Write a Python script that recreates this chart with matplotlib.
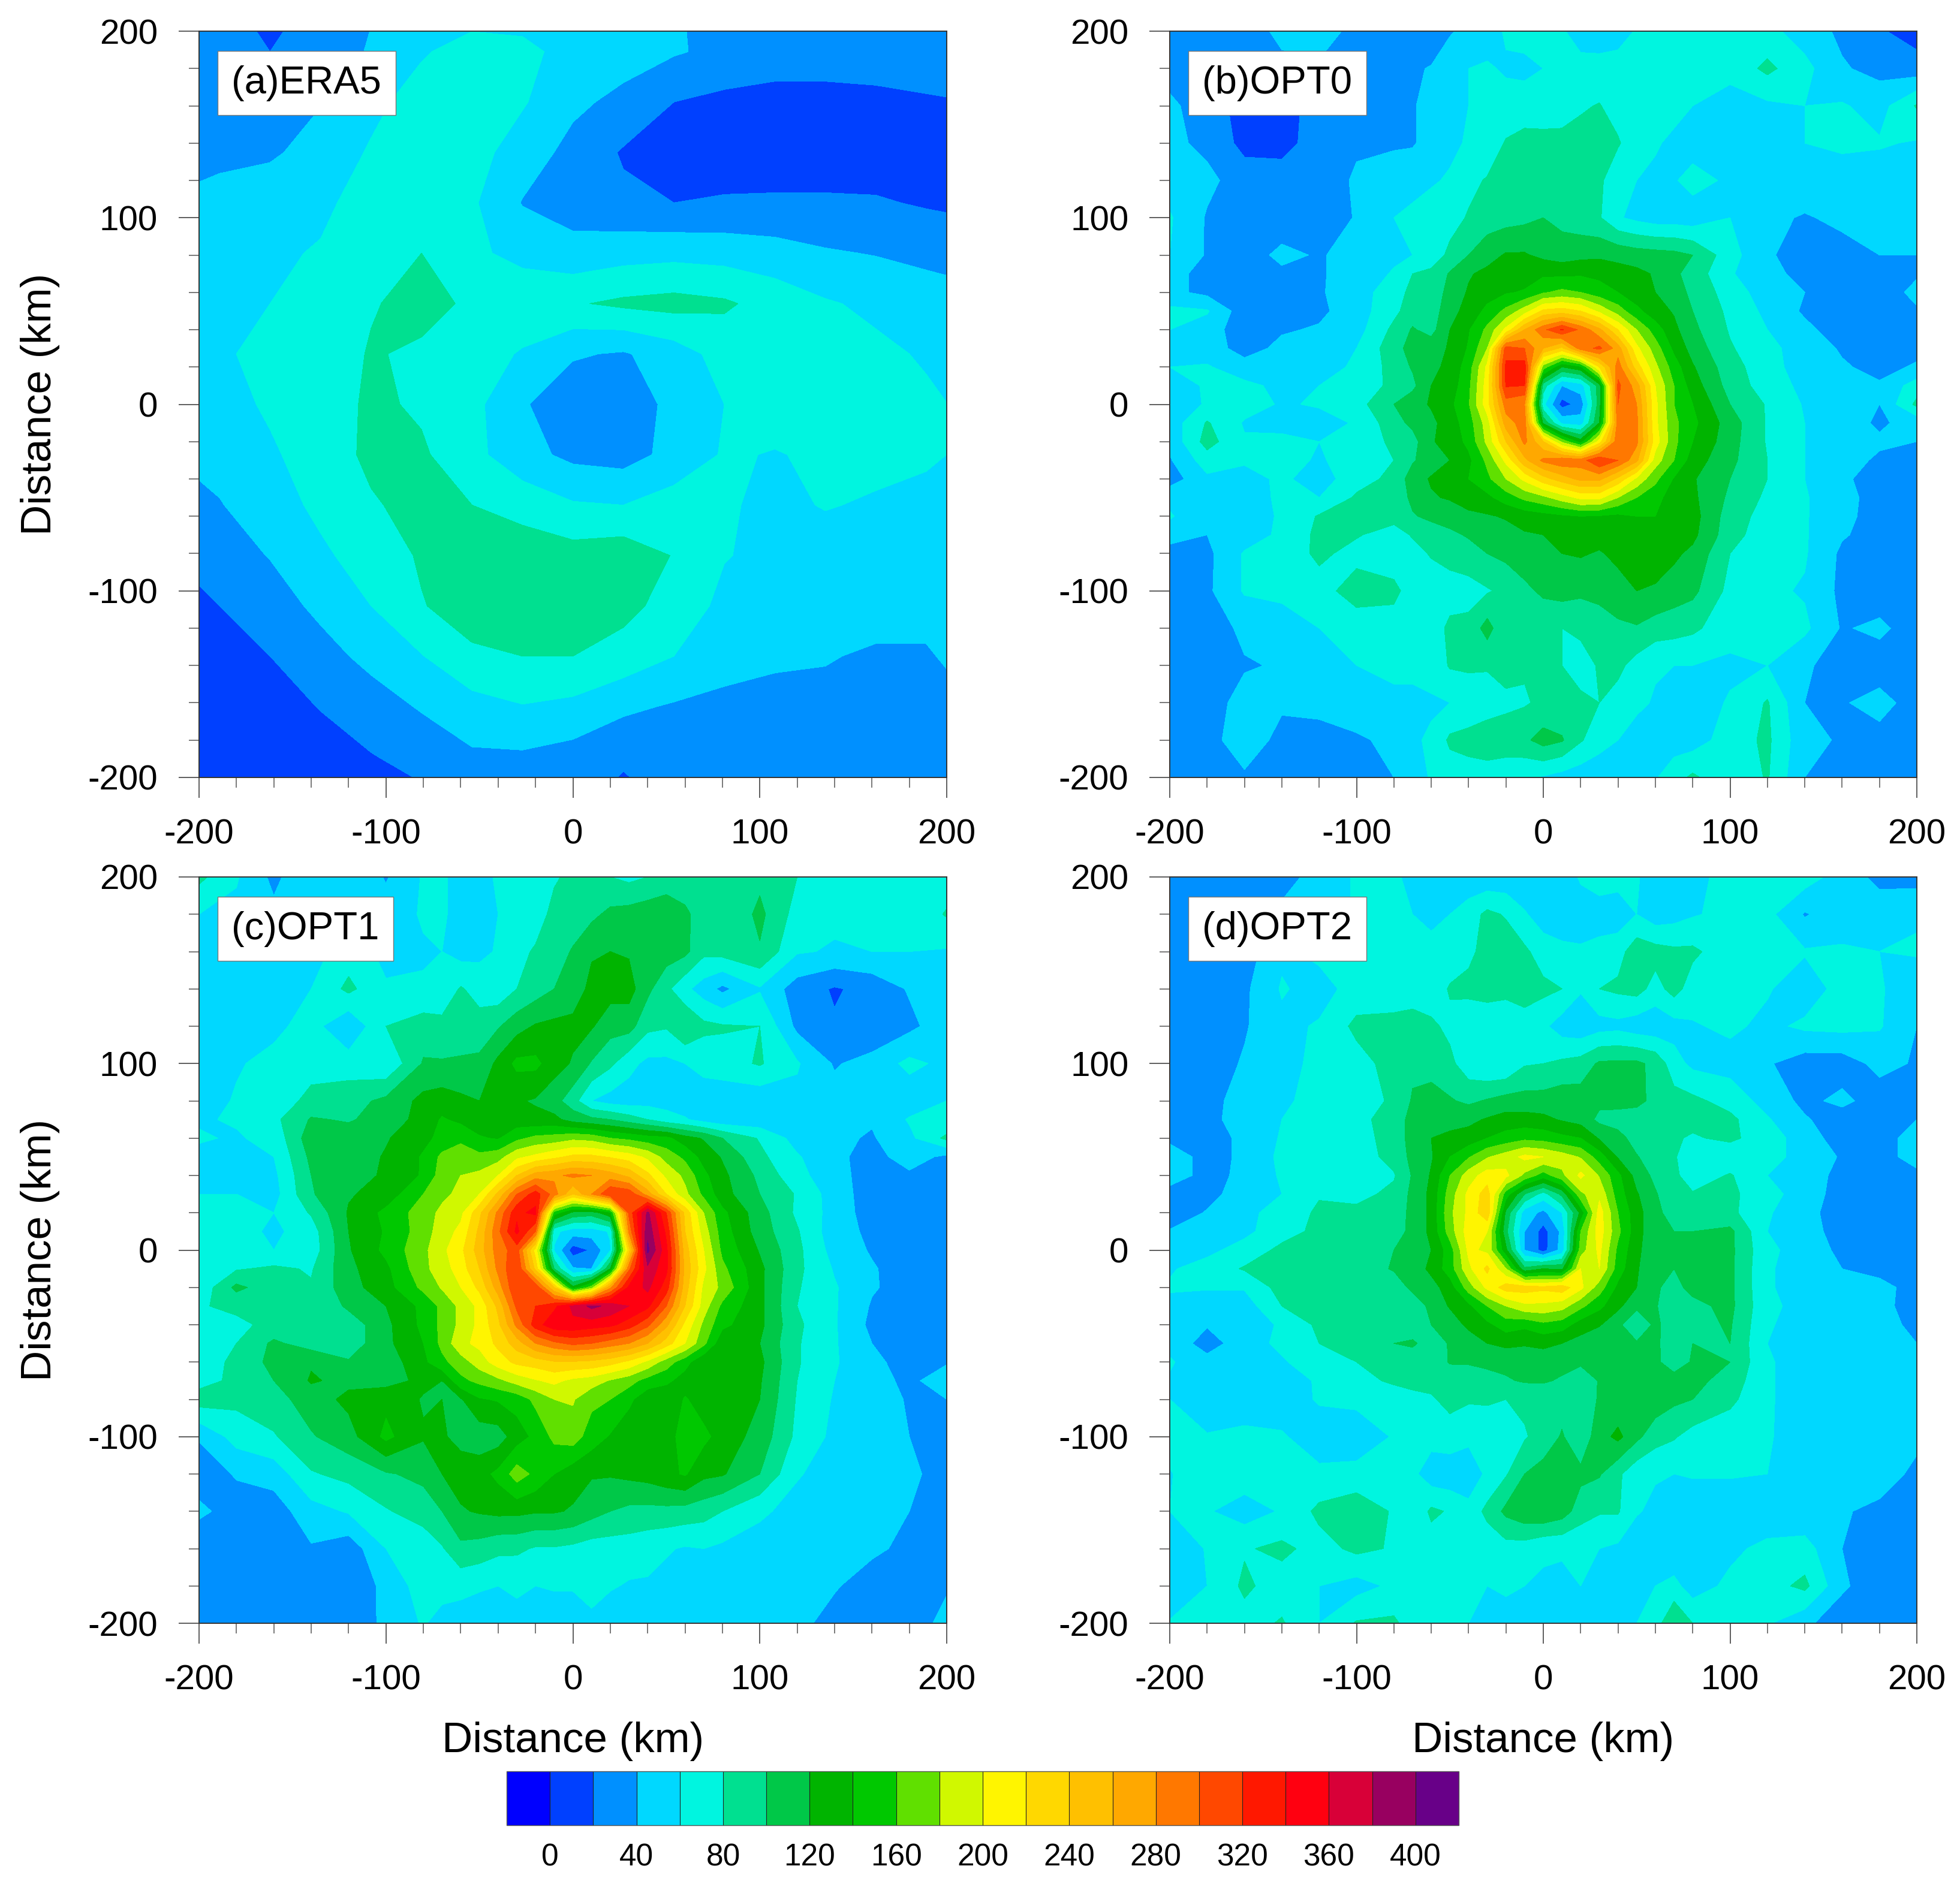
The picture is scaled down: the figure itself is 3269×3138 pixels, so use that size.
import numpy as np
import matplotlib
matplotlib.use("Agg")
import matplotlib.pyplot as plt
from matplotlib.ticker import MultipleLocator

plt.rcParams['font.family'] = ['Liberation Sans', 'DejaVu Sans']
plt.rcParams['axes.unicode_minus'] = False

# contour levels and fill colours
levels = list(range(0, 401, 20))
colors = ['#0000FF', '#0040FF', '#0090FF', '#00D8FF', '#00F5E0', '#00E090', '#00C848', '#00B400',
          '#00C800', '#60E000', '#D0F800', '#FFF500', '#FFD800', '#FFC000', '#FFA800', '#FF7800',
          '#FF4800', '#FF1800', '#FF0010', '#D80038', '#980060', '#680088']
cbar_ticks = list(range(0, 401, 40))
axis_ticks = [-200, -100, 0, 100, 200]
titles = ['(a)ERA5', '(b)OPT0', '(c)OPT1', '(d)OPT2']

# ERA5 grid, about 27 km
x_era = [-216, -189, -162, -135, -108, -81, -54, -27, 0, 27, 54, 81, 108, 135, 162, 189, 216]
y_era = [216, 189, 162, 135, 108, 81, 54, 27, 0, -27, -54, -81, -108, -135, -162, -189, -216]
era5 = [
    [28, 25, 10, 25, 38, 50, 48, 46, 48, 45, 42, 32, 30, 28, 28, 28, 28],
    [28, 27, 20, 28, 42, 58, 68, 66, 52, 48, 42, 35, 30, 30, 30, 30, 30],
    [28, 30, 34, 39, 55, 68, 72, 62, 44, 35, 20, 15, 13, 13, 15, 18, 20],
    [30, 35, 37, 48, 62, 72, 68, 50, 34, 18, 12, 10, 8, 8, 9, 11, 13],
    [42, 47, 52, 55, 70, 76, 63, 39, 31, 24, 20, 22, 23, 23, 22, 18, 15],
    [50, 52, 56, 62, 72, 80, 64, 54, 47, 52, 54, 52, 48, 42, 39, 35, 31],
    [52, 56, 60, 70, 78, 88, 76, 74, 78, 84, 87, 83, 72, 62, 56, 50, 46],
    [52, 57, 66, 66, 82, 76, 70, 58, 42, 38, 50, 68, 72, 70, 64, 58, 52],
    [45, 52, 63, 68, 84, 77, 66, 42, 28, 27, 46, 60, 68, 70, 68, 63, 56],
    [40, 46, 57, 70, 84, 83, 66, 47, 35, 32, 46, 62, 59, 63, 65, 62, 57],
    [28, 39, 50, 65, 78, 86, 80, 72, 62, 60, 69, 62, 56, 61, 58, 56, 54],
    [20, 30, 41, 56, 70, 82, 88, 92, 88, 92, 79, 61, 55, 52, 50, 50, 50],
    [10, 20, 30, 45, 60, 79, 88, 92, 90, 86, 72, 55, 50, 48, 46, 46, 50],
    [6, 14, 20, 32, 46, 59, 77, 80, 80, 72, 60, 46, 42, 41, 38, 38, 48],
    [4, 6, 10, 21, 30, 42, 52, 59, 55, 44, 38, 36, 36, 36, 32, 33, 40],
    [2, 3, 3, 10, 19, 26, 37, 37, 32, 24, 27, 28, 29, 29, 29, 32, 36],
    [0, 0, 1, 3, 8, 14, 26, 30, 24, 10, 22, 25, 27, 27, 27, 28, 30],
]

# OPT runs: finer near the centre
x_opt = [-200, -180, -160, -140, -120, -100, -80, -70, -60, -50, -40, -30, -20, -10, 0,
         10, 20, 30, 40, 50, 60, 70, 80, 100, 120, 140, 160, 180, 200]
y_opt = x_opt[::-1]

opt0 = [
    [30, 28, 32, 44, 46, 36, 32, 30, 30, 38, 46, 52, 62, 66, 66, 62, 52, 48, 50, 62, 66, 68, 66, 66, 66, 50, 36, 22, 12],
    [32, 22, 30, 36, 38, 36, 38, 38, 41, 52, 60, 62, 58, 56, 60, 64, 66, 68, 70, 70, 72, 70, 68, 66, 85, 66, 42, 34, 28],
    [44, 30, 12, 15, 25, 35, 38, 38, 48, 54, 60, 66, 66, 68, 70, 74, 78, 81, 72, 68, 74, 66, 60, 52, 56, 60, 62, 52, 82],
    [45, 35, 14, 14, 28, 38, 37, 38, 48, 56, 62, 65, 82, 88, 86, 84, 86, 88, 82, 68, 62, 56, 50, 53, 52, 60, 64, 62, 58],
    [50, 45, 30, 28, 32, 42, 52, 54, 58, 62, 74, 82, 88, 92, 98, 90, 88, 84, 66, 60, 56, 58, 68, 56, 60, 54, 50, 50, 48],
    [62, 38, 30, 28, 32, 41, 60, 64, 68, 72, 82, 90, 92, 95, 100, 94, 88, 82, 62, 55, 50, 50, 48, 60, 45, 38, 45, 47, 45],
    [60, 38, 30, 45, 38, 48, 56, 60, 68, 85, 100, 112, 122, 122, 115, 110, 114, 116, 114, 110, 108, 106, 100, 68, 42, 33, 32, 40, 40],
    [48, 32, 30, 36, 38, 48, 62, 80, 85, 102, 118, 125, 128, 130, 136, 135, 137, 135, 128, 125, 118, 104, 92, 62, 46, 34, 31, 40, 38],
    [45, 35, 30, 33, 38, 50, 72, 85, 85, 108, 122, 132, 138, 142, 158, 165, 160, 148, 140, 128, 120, 108, 96, 70, 50, 40, 27, 30, 45],
    [65, 62, 28, 30, 36, 50, 75, 90, 90, 112, 128, 145, 165, 190, 225, 230, 220, 195, 170, 145, 128, 118, 100, 75, 55, 37, 30, 30, 38],
    [60, 50, 28, 38, 42, 52, 85, 102, 93, 120, 138, 165, 205, 260, 295, 322, 295, 265, 220, 180, 150, 125, 105, 78, 60, 45, 30, 25, 35],
    [55, 50, 32, 45, 52, 60, 92, 108, 112, 122, 142, 180, 310, 300, 260, 235, 290, 305, 270, 205, 170, 135, 112, 82, 66, 50, 38, 28, 35],
    [60, 62, 48, 50, 55, 62, 88, 102, 115, 125, 150, 205, 325, 330, 170, 120, 135, 220, 290, 230, 185, 150, 122, 88, 68, 50, 42, 35, 42],
    [52, 62, 65, 55, 60, 68, 85, 95, 120, 128, 155, 210, 322, 320, 90, 40, 50, 110, 305, 270, 200, 160, 130, 92, 70, 55, 48, 42, 70],
    [48, 62, 68, 58, 62, 72, 100, 112, 122, 135, 158, 212, 290, 280, 65, 12, 28, 110, 300, 280, 205, 160, 140, 100, 78, 58, 46, 40, 85],
    [48, 82, 58, 52, 52, 62, 92, 105, 115, 130, 150, 190, 270, 290, 115, 55, 50, 120, 290, 285, 205, 165, 145, 110, 78, 60, 46, 38, 45],
    [45, 88, 62, 66, 60, 68, 84, 92, 118, 128, 145, 185, 240, 285, 240, 175, 130, 210, 295, 285, 210, 165, 140, 108, 78, 60, 48, 42, 40],
    [38, 70, 63, 66, 58, 68, 80, 98, 110, 120, 135, 165, 205, 255, 285, 295, 290, 320, 300, 265, 190, 160, 130, 105, 80, 60, 45, 38, 38],
    [30, 56, 52, 64, 50, 72, 85, 110, 122, 128, 140, 155, 180, 205, 232, 250, 265, 265, 235, 195, 165, 138, 122, 100, 80, 60, 42, 35, 40],
    [55, 50, 55, 62, 60, 83, 85, 105, 118, 122, 130, 135, 150, 165, 175, 190, 205, 205, 180, 160, 148, 128, 124, 96, 76, 62, 45, 34, 38],
    [62, 45, 52, 62, 82, 85, 88, 98, 105, 108, 115, 118, 122, 128, 132, 136, 140, 138, 135, 140, 140, 138, 128, 90, 72, 62, 44, 34, 35],
    [50, 40, 50, 64, 85, 82, 70, 82, 88, 96, 102, 108, 112, 118, 120, 125, 128, 128, 128, 132, 132, 130, 125, 88, 68, 62, 42, 32, 30],
    [30, 35, 62, 65, 85, 72, 62, 72, 82, 88, 92, 100, 105, 112, 118, 120, 122, 118, 125, 128, 128, 124, 115, 80, 66, 62, 36, 30, 28],
    [28, 36, 62, 65, 70, 92, 88, 66, 67, 70, 72, 78, 85, 95, 104, 108, 104, 106, 112, 120, 118, 110, 105, 74, 64, 58, 35, 27, 28],
    [32, 28, 45, 50, 60, 65, 66, 68, 68, 85, 86, 108, 83, 82, 84, 80, 84, 90, 96, 98, 90, 88, 84, 68, 62, 64, 38, 45, 28],
    [30, 25, 38, 42, 58, 60, 62, 64, 66, 82, 84, 82, 88, 82, 84, 80, 72, 82, 85, 72, 62, 60, 60, 56, 60, 44, 28, 28, 35],
    [38, 30, 48, 44, 48, 60, 58, 56, 58, 60, 64, 70, 75, 78, 84, 86, 84, 80, 72, 64, 58, 52, 50, 62, 82, 40, 38, 48, 30],
    [28, 30, 55, 32, 30, 35, 48, 58, 62, 84, 88, 92, 92, 96, 108, 102, 82, 68, 60, 52, 50, 50, 50, 70, 84, 45, 38, 32, 28],
    [25, 28, 36, 28, 28, 32, 40, 50, 62, 68, 70, 70, 66, 62, 58, 52, 48, 46, 46, 48, 58, 72, 84, 64, 82, 40, 30, 28, 28],
]

opt1 = [
    [85, 62, 35, 58, 60, 38, 62, 62, 55, 55, 62, 68, 70, 78, 84, 88, 80, 75, 80, 84, 85, 86, 88, 95, 80, 75, 72, 70, 68],
    [60, 55, 45, 50, 48, 50, 62, 62, 55, 52, 60, 65, 72, 85, 88, 95, 105, 108, 112, 118, 105, 88, 80, 105, 72, 64, 66, 64, 82],
    [52, 48, 48, 52, 70, 55, 58, 60, 52, 55, 62, 75, 82, 90, 102, 118, 120, 118, 118, 110, 105, 85, 88, 98, 62, 58, 60, 60, 58],
    [45, 50, 55, 60, 85, 62, 62, 66, 82, 72, 66, 80, 90, 100, 110, 125, 128, 128, 105, 85, 65, 50, 35, 58, 30, 18, 26, 42, 48],
    [42, 60, 55, 68, 42, 80, 90, 86, 85, 88, 98, 112, 122, 125, 125, 122, 108, 108, 85, 82, 100, 85, 82, 80, 35, 22, 22, 35, 52],
    [52, 58, 66, 72, 70, 62, 102, 102, 104, 105, 125, 145, 145, 128, 118, 98, 84, 66, 55, 55, 60, 66, 72, 82, 62, 38, 48, 65, 55],
    [50, 62, 68, 86, 92, 105, 126, 130, 124, 120, 122, 122, 118, 108, 88, 60, 52, 50, 52, 52, 48, 50, 45, 45, 55, 48, 48, 48, 60],
    [58, 62, 75, 102, 98, 108, 128, 142, 135, 128, 120, 128, 125, 125, 112, 105, 100, 90, 80, 68, 62, 52, 46, 46, 54, 46, 42, 62, 62],
    [62, 58, 66, 112, 110, 118, 135, 145, 155, 142, 138, 155, 165, 168, 175, 172, 160, 155, 148, 145, 128, 118, 100, 78, 52, 44, 38, 55, 85],
    [55, 50, 60, 105, 108, 122, 142, 165, 172, 165, 172, 195, 205, 215, 225, 225, 218, 210, 195, 172, 155, 132, 118, 85, 62, 45, 32, 50, 35],
    [52, 48, 55, 100, 105, 125, 142, 170, 180, 185, 200, 240, 270, 275, 285, 280, 270, 255, 225, 195, 175, 145, 125, 95, 66, 48, 30, 36, 28],
    [60, 60, 52, 98, 118, 128, 160, 175, 185, 200, 245, 300, 330, 290, 240, 280, 320, 315, 270, 220, 185, 155, 128, 100, 78, 50, 30, 30, 28],
    [65, 68, 60, 82, 122, 145, 170, 185, 195, 235, 285, 335, 345, 150, 115, 110, 135, 305, 385, 320, 235, 180, 145, 108, 76, 52, 30, 30, 28],
    [68, 68, 56, 70, 120, 142, 170, 190, 205, 245, 295, 345, 300, 65, 50, 50, 62, 285, 395, 335, 240, 190, 150, 110, 82, 48, 36, 32, 30],
    [62, 66, 60, 68, 118, 145, 175, 195, 215, 250, 290, 310, 210, 58, 10, 22, 58, 230, 405, 345, 250, 200, 155, 118, 85, 52, 38, 30, 28],
    [65, 78, 84, 78, 115, 135, 175, 190, 210, 240, 285, 320, 235, 100, 42, 40, 120, 295, 375, 345, 255, 205, 165, 125, 85, 58, 42, 30, 28],
    [65, 105, 88, 82, 112, 132, 165, 182, 200, 225, 270, 320, 315, 240, 125, 170, 275, 345, 365, 330, 250, 195, 175, 125, 82, 62, 42, 32, 30],
    [78, 85, 82, 80, 104, 120, 145, 165, 185, 205, 245, 305, 320, 335, 365, 385, 375, 360, 345, 300, 240, 190, 155, 125, 80, 62, 38, 25, 30],
    [66, 75, 86, 88, 88, 115, 145, 165, 185, 205, 235, 285, 330, 355, 355, 350, 345, 330, 305, 265, 215, 175, 145, 125, 84, 62, 35, 25, 28],
    [65, 80, 104, 90, 88, 115, 140, 165, 195, 205, 225, 250, 280, 295, 305, 300, 290, 280, 260, 230, 200, 165, 125, 120, 82, 62, 40, 25, 25],
    [62, 88, 105, 118, 102, 108, 135, 155, 170, 190, 210, 225, 230, 238, 238, 235, 228, 215, 195, 170, 148, 122, 135, 125, 82, 62, 46, 30, 38],
    [72, 85, 100, 122, 115, 112, 125, 120, 155, 165, 175, 188, 198, 205, 195, 190, 178, 168, 152, 145, 130, 120, 125, 122, 80, 60, 48, 35, 52],
    [90, 85, 92, 110, 125, 135, 118, 120, 118, 138, 142, 148, 165, 180, 182, 165, 160, 145, 125, 122, 142, 130, 125, 120, 78, 58, 50, 38, 40],
    [42, 68, 78, 98, 112, 145, 122, 122, 115, 108, 110, 130, 145, 165, 170, 150, 138, 125, 125, 130, 150, 145, 132, 112, 75, 55, 48, 40, 38],
    [28, 42, 48, 78, 86, 98, 105, 120, 128, 132, 145, 170, 155, 140, 128, 122, 122, 125, 128, 135, 142, 125, 122, 100, 62, 50, 52, 45, 30],
    [45, 30, 30, 52, 62, 78, 90, 100, 118, 122, 125, 125, 122, 122, 118, 108, 100, 95, 94, 94, 92, 88, 80, 64, 52, 46, 48, 40, 22],
    [22, 25, 22, 38, 28, 60, 66, 78, 95, 92, 85, 84, 78, 78, 75, 70, 70, 70, 66, 62, 58, 60, 56, 50, 48, 45, 44, 35, 28],
    [22, 24, 24, 30, 26, 45, 70, 68, 66, 62, 60, 62, 60, 62, 62, 78, 62, 58, 58, 54, 52, 50, 48, 46, 46, 42, 30, 28, 38],
    [25, 25, 25, 25, 25, 45, 62, 52, 50, 50, 54, 56, 50, 48, 48, 48, 48, 48, 48, 48, 48, 48, 48, 46, 46, 32, 30, 30, 46],
]

opt2 = [
    [30, 30, 28, 30, 50, 62, 65, 52, 48, 46, 46, 45, 46, 45, 48, 50, 62, 66, 68, 62, 50, 52, 55, 66, 70, 70, 50, 35, 32],
    [28, 28, 30, 46, 48, 62, 66, 60, 55, 60, 70, 85, 78, 62, 50, 50, 52, 54, 48, 60, 48, 52, 58, 66, 66, 38, 52, 50, 58],
    [28, 28, 30, 56, 65, 66, 66, 66, 66, 68, 75, 88, 92, 84, 70, 64, 62, 64, 72, 92, 88, 84, 84, 68, 62, 62, 62, 60, 62],
    [32, 28, 36, 62, 52, 68, 66, 66, 68, 82, 86, 88, 84, 90, 85, 80, 62, 80, 84, 88, 72, 88, 70, 65, 62, 48, 68, 62, 48],
    [30, 32, 38, 55, 62, 85, 88, 92, 84, 75, 64, 66, 70, 70, 64, 50, 46, 52, 54, 48, 46, 52, 58, 64, 55, 64, 66, 62, 40],
    [38, 30, 42, 52, 66, 72, 88, 96, 92, 85, 68, 60, 60, 78, 80, 84, 88, 103, 104, 104, 95, 68, 55, 52, 42, 30, 30, 46, 38],
    [28, 30, 52, 58, 64, 68, 84, 102, 108, 102, 96, 102, 108, 108, 108, 112, 110, 105, 110, 108, 92, 88, 85, 72, 52, 35, 45, 30, 30],
    [25, 28, 58, 60, 66, 72, 92, 105, 110, 112, 115, 122, 128, 128, 125, 118, 112, 95, 88, 85, 85, 85, 85, 85, 62, 42, 30, 38, 40],
    [32, 32, 44, 62, 66, 72, 88, 108, 120, 125, 128, 140, 148, 155, 152, 145, 140, 118, 110, 88, 84, 82, 78, 84, 70, 50, 30, 38, 42],
    [58, 28, 46, 64, 66, 68, 88, 105, 118, 140, 158, 178, 190, 205, 200, 190, 178, 150, 118, 102, 85, 82, 68, 66, 68, 52, 38, 32, 48],
    [58, 28, 48, 62, 62, 66, 78, 102, 122, 160, 190, 210, 205, 175, 150, 175, 205, 178, 145, 112, 95, 85, 68, 82, 60, 50, 34, 30, 35],
    [25, 32, 52, 60, 78, 74, 85, 105, 125, 170, 205, 230, 150, 100, 72, 105, 175, 195, 150, 122, 102, 85, 82, 85, 66, 52, 30, 28, 28],
    [24, 42, 56, 66, 84, 85, 90, 105, 125, 175, 205, 235, 115, 50, 35, 60, 125, 210, 160, 128, 105, 92, 85, 85, 62, 48, 28, 25, 25],
    [42, 45, 55, 72, 85, 88, 92, 105, 125, 170, 210, 200, 105, 40, 12, 45, 160, 210, 165, 128, 105, 100, 100, 105, 60, 50, 30, 26, 26],
    [45, 55, 68, 85, 85, 88, 100, 102, 120, 150, 205, 195, 125, 40, 12, 48, 170, 205, 155, 125, 105, 102, 105, 105, 64, 52, 35, 30, 24],
    [58, 68, 82, 90, 88, 88, 102, 108, 125, 150, 195, 225, 180, 105, 120, 115, 200, 200, 150, 122, 105, 100, 105, 105, 62, 52, 40, 36, 26],
    [62, 62, 62, 88, 90, 90, 88, 105, 112, 130, 170, 205, 230, 230, 225, 232, 205, 170, 135, 120, 102, 95, 105, 105, 62, 52, 42, 44, 35],
    [55, 48, 50, 80, 90, 88, 85, 88, 105, 122, 135, 160, 180, 195, 195, 188, 165, 145, 125, 104, 102, 85, 95, 105, 64, 54, 48, 48, 28],
    [58, 42, 44, 64, 84, 82, 85, 84, 100, 108, 125, 135, 150, 145, 155, 150, 130, 122, 104, 85, 104, 90, 94, 102, 62, 52, 50, 52, 32],
    [55, 30, 52, 64, 80, 84, 100, 104, 88, 102, 108, 120, 125, 122, 125, 120, 112, 102, 102, 102, 105, 85, 100, 100, 60, 52, 50, 50, 40],
    [62, 48, 55, 58, 70, 80, 88, 85, 85, 102, 102, 105, 105, 108, 108, 105, 105, 103, 103, 105, 104, 90, 102, 100, 62, 52, 50, 50, 46],
    [58, 52, 50, 52, 62, 72, 84, 90, 85, 85, 88, 92, 98, 102, 102, 98, 82, 102, 104, 108, 118, 108, 106, 92, 62, 52, 48, 50, 48],
    [60, 42, 46, 50, 62, 66, 66, 70, 78, 85, 82, 82, 80, 84, 88, 92, 88, 102, 106, 104, 112, 104, 100, 85, 62, 52, 50, 52, 52],
    [70, 62, 66, 62, 50, 45, 62, 66, 68, 72, 66, 70, 64, 78, 88, 102, 85, 112, 125, 105, 88, 82, 72, 66, 62, 50, 50, 55, 50],
    [58, 80, 72, 64, 64, 68, 72, 65, 48, 46, 44, 65, 78, 100, 108, 106, 105, 102, 84, 66, 62, 60, 62, 62, 60, 46, 48, 60, 30],
    [60, 62, 50, 62, 85, 92, 78, 62, 84, 78, 68, 85, 105, 115, 118, 110, 90, 82, 82, 62, 55, 50, 46, 46, 44, 45, 44, 30, 26],
    [40, 62, 78, 85, 72, 85, 78, 62, 70, 62, 60, 68, 72, 70, 62, 62, 62, 60, 56, 46, 46, 44, 42, 55, 66, 68, 40, 26, 24],
    [42, 60, 84, 70, 60, 52, 64, 62, 62, 60, 62, 60, 62, 60, 58, 56, 60, 50, 50, 58, 60, 66, 50, 65, 72, 85, 44, 25, 24],
    [62, 62, 72, 82, 60, 82, 84, 70, 62, 62, 60, 60, 55, 60, 52, 45, 50, 58, 60, 60, 70, 100, 80, 60, 62, 45, 26, 24, 24],
]

W, H = 3269, 3138
fig = plt.figure(figsize=(W / 100, H / 100), dpi=100)


def px_axes(x0, y0, x1, y1):
    # rectangle given in image pixels, y from the top
    return fig.add_axes([x0 / W, 1 - y1 / H, (x1 - x0) / W, (y1 - y0) / H])


boxes = [(332, 52, 1579, 1297), (1951, 52, 3197, 1297), (332, 1463, 1579, 2708), (1951, 1463, 3197, 2708)]
grids = [(x_era, y_era, era5), (x_opt, y_opt, opt0), (x_opt, y_opt, opt1), (x_opt, y_opt, opt2)]

cf = None
for i, (box, grid, title) in enumerate(zip(boxes, grids, titles)):
    ax = px_axes(*box)
    cf = ax.contourf(grid[0], grid[1], np.array(grid[2], dtype=float), levels=levels, colors=colors, extend='both')
    ax.set_xlim(-200, 200)
    ax.set_ylim(-200, 200)
    ax.set_xticks(axis_ticks)
    ax.set_yticks(axis_ticks)
    ax.xaxis.set_minor_locator(MultipleLocator(20))
    ax.yaxis.set_minor_locator(MultipleLocator(20))
    ax.tick_params(which='major', length=24.5, width=1.1, color='#333333', labelsize=42)
    ax.tick_params(which='minor', length=12, width=1.1, color='#555555')
    ax.tick_params(axis='x', which='major', pad=25)
    ax.tick_params(axis='y', which='major', pad=25)
    for s in ax.spines.values():
        s.set_linewidth(1.4)
        s.set_color('#333333')
    ax.text(0.0435, 0.9305, title, transform=ax.transAxes, fontsize=47, va='center', ha='left',
            bbox=dict(boxstyle='square,pad=0.36', fc='white', ec='#777777', lw=1), zorder=5)
    if i >= 2:
        ax.set_xlabel('Distance (km)', fontsize=51)
        ax.xaxis.set_label_coords(0.5, -0.158)
        ax.xaxis.label.set_va('center')
    if i % 2 == 0:
        ax.set_ylabel('Distance (km)', fontsize=51)
        ax.yaxis.set_label_coords(-0.2125, 0.5)
        ax.yaxis.label.set_va('center')

cax = px_axes(845, 2955, 2433, 3045)
cb = fig.colorbar(cf, cax=cax, orientation='horizontal', ticks=cbar_ticks, drawedges=True,
                  extendrect=True, extendfrac='auto')
cb.ax.tick_params(length=0, labelsize=37, pad=21)
cb.outline.set_linewidth(1.0)
cb.outline.set_edgecolor('#555555')
cb.dividers.set_linewidth(0.8)
cb.dividers.set_color('#222222')

fig.savefig('out.png', dpi=100)
